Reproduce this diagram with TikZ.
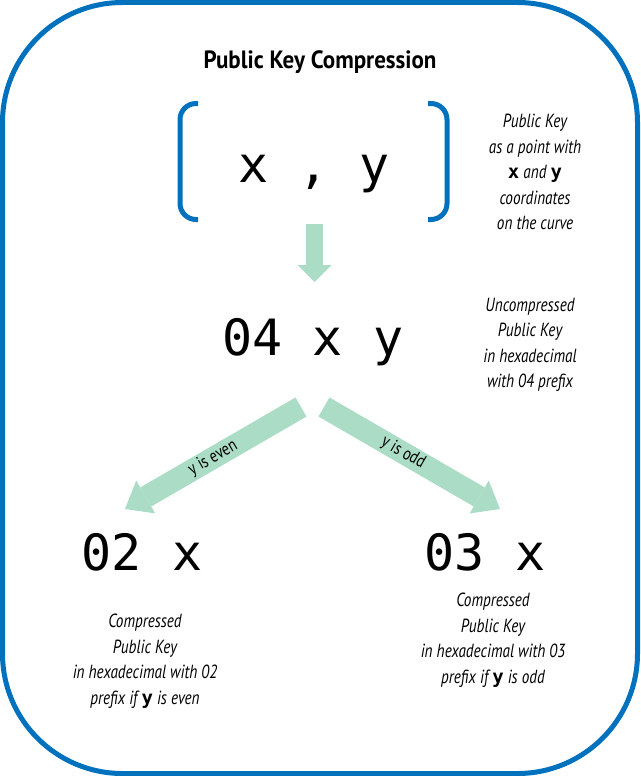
\documentclass[tikz,border=0pt]{standalone}
\usepackage{fontspec}
\setmainfont{PT Sans}
\newfontfamily\notefont[FakeStretch=0.8]{PT Sans}
\newfontfamily\titlefont[FakeStretch=0.92]{PT Sans}
\newfontfamily\hexfont{DejaVu Sans Mono}
\usetikzlibrary{arrows.meta}
\definecolor{frameblue}{RGB}{0,113,188}
\definecolor{arrowgreen}{RGB}{170,220,198}
\newcommand{\bx}[1]{{\upshape\bfseries\hexfont #1}}
\tikzset{
	hexkey/.style={font=\hexfont\fontsize{50}{60}\selectfont,inner sep=0pt,anchor=base},
	note/.style={font=\notefont\itshape\fontsize{19}{25.5}\selectfont,align=center,inner sep=0pt},
	branch/.style={font=\notefont\fontsize{18}{20}\selectfont,inner sep=0pt,sloped},
	bigarrow/.style={arrowgreen,line width=22pt,-{Triangle[width=38pt,length=24pt,line width=0pt]}},
	bracket/.style={frameblue,line width=5pt},
}
\begin{document}
\begin{tikzpicture}
				\useasboundingbox (0pt,0pt) rectangle (640pt,-776pt);
				%frame
				\draw[frameblue,line width=5pt,rounded corners=120pt] (2.5pt,-2.5pt) rectangle (637.5pt,-773.5pt);
				\node[font=\titlefont\bfseries\fontsize{25}{30}\selectfont,anchor=base] (title) at (320pt,-68pt) {Public Key Compression};
				%point
				\node[hexkey] (point) at (314pt,-182pt) {x , y};
				\draw[bracket] (198pt,-103.5pt) -- (196pt,-103.5pt) arc[start angle=90,end angle=180,radius=16pt] -- (180pt,-203.5pt) arc[start angle=180,end angle=270,radius=16pt] -- (198pt,-219.5pt);
				\draw[bracket] (428pt,-103.5pt) -- (431pt,-103.5pt) arc[start angle=90,end angle=0,radius=16pt] -- (447pt,-203.5pt) arc[start angle=0,end angle=-90,radius=16pt] -- (428pt,-219.5pt);
				\node[note] (pointnote) at (535pt,-172pt) {Public Key\\as a point with\\\bx{x} and \bx{y}\\coordinates\\on the curve};
				%uncompressed
				\coordinate (down0) at (314.5pt,-224pt);
				\coordinate (down1) at (314.5pt,-282pt);
				\draw[arrowgreen,line width=17pt,-{Triangle[width=34pt,length=17pt,line width=0pt]}] (down0) -- (down1);
				\node[hexkey] (uncomp) at (313pt,-355pt) {04 x y};
				\node[note] (uncompnote) at (530pt,-345pt) {Uncompressed\\Public Key\\in hexadecimal\\with 04 prefix};
				%branches
				\coordinate (even0) at (301pt,-407pt);
				\coordinate (even1) at (125pt,-509pt);
				\coordinate (odd0) at (324pt,-407pt);
				\coordinate (odd1) at (500pt,-509pt);
				\draw[bigarrow] (even0) -- node[branch,midway,black] (evenlabel) {y is even} (even1);
				\draw[bigarrow] (odd0) -- node[branch,pos=0.45,black] (oddlabel) {y is odd} (odd1);
				%compressed
				\node[hexkey] (even) at (142pt,-570pt) {02 x};
				\node[hexkey] (odd) at (485pt,-570pt) {03 x};
				\node[note] (evennote) at (145pt,-661pt) {Compressed\\Public Key\\in hexadecimal with 02\\prefix if \bx{y} is even};
				\node[note] (oddnote) at (493pt,-640pt) {Compressed\\Public Key\\in hexadecimal with 03\\prefix if \bx{y} is odd};
\end{tikzpicture}
\end{document}
